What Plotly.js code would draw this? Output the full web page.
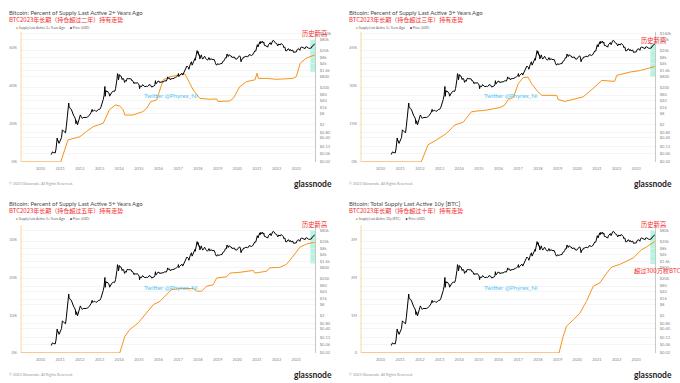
<!DOCTYPE html>
<html><head><meta charset="utf-8">
<script src="https://cdn.plot.ly/plotly-3.0.1.min.js"></script>
<style>html,body{margin:0;padding:0;background:#fff}#c{width:680px;height:383px}</style>
</head><body><div id="c"></div>
<script>
// ---------- DATA ----------
const yearTicks = ['2010','2011','2012','2013','2014','2015','2016','2017','2018','2019','2020','2021','2022','2023'];
const priceTickVals = [0.02,0.06,0.13,0.4,0.8,2,8,16,40,80,200,800,1600,4000,8000,20000,80000,160000];
const priceTickText = ['$0.02','$0.06','$0.13','$0.40','$0.80','$2','$8','$16','$40','$80','$200','$800','$1.6k','$4k','$8k','$20k','$80k','$160k'];

const priceDates = ['2010-07-18','2010-07-25','2010-08-10','2010-08-25','2010-09-15','2010-10-01','2010-10-15','2010-10-28','2010-11-06','2010-11-15','2010-11-25','2010-12-10','2010-12-25',
'2011-01-10','2011-01-25','2011-02-10','2011-02-25','2011-03-10','2011-03-25','2011-04-10','2011-04-25','2011-05-10','2011-05-25','2011-06-08','2011-06-15','2011-06-25','2011-07-10','2011-07-25','2011-08-10','2011-08-25','2011-09-10','2011-09-25','2011-10-10','2011-10-20','2011-11-01','2011-11-18','2011-12-01','2011-12-20',
'2012-01-10','2012-01-25','2012-02-15','2012-03-01','2012-03-20','2012-04-10','2012-05-01','2012-05-20','2012-06-10','2012-06-25','2012-07-10','2012-07-25','2012-08-16','2012-08-25','2012-09-10','2012-09-25','2012-10-10','2012-10-25','2012-11-10','2012-11-25','2012-12-10','2012-12-25',
'2013-01-10','2013-01-25','2013-02-10','2013-02-25','2013-03-10','2013-03-25','2013-04-10','2013-04-16','2013-04-28','2013-05-10','2013-05-25','2013-06-10','2013-06-25','2013-07-06','2013-07-20','2013-08-10','2013-08-25','2013-09-10','2013-09-25','2013-10-10','2013-10-25','2013-11-10','2013-11-20','2013-11-30','2013-12-10','2013-12-18','2013-12-25',
'2014-01-06','2014-01-20','2014-02-05','2014-02-25','2014-03-10','2014-03-25','2014-04-10','2014-04-25','2014-05-10','2014-05-25','2014-06-05','2014-06-20','2014-07-10','2014-07-25','2014-08-10','2014-08-20','2014-09-05','2014-09-20','2014-10-05','2014-10-20','2014-11-05','2014-11-20','2014-12-05','2014-12-20',
'2015-01-05','2015-01-14','2015-01-25','2015-02-10','2015-02-25','2015-03-10','2015-03-25','2015-04-10','2015-04-25','2015-05-10','2015-05-25','2015-06-10','2015-06-25','2015-07-10','2015-07-25','2015-08-10','2015-08-25','2015-09-10','2015-09-25','2015-10-10','2015-10-25','2015-11-04','2015-11-12','2015-11-25','2015-12-10','2015-12-25',
'2016-01-10','2016-01-20','2016-02-05','2016-02-25','2016-03-10','2016-03-25','2016-04-10','2016-04-25','2016-05-10','2016-05-25','2016-06-10','2016-06-17','2016-06-25','2016-07-10','2016-07-25','2016-08-02','2016-08-20','2016-09-10','2016-09-25','2016-10-10','2016-10-25','2016-11-10','2016-11-25','2016-12-10','2016-12-25',
'2017-01-04','2017-01-12','2017-01-25','2017-02-10','2017-02-25','2017-03-10','2017-03-25','2017-04-10','2017-04-25','2017-05-10','2017-05-25','2017-06-10','2017-06-25','2017-07-10','2017-07-16','2017-07-25','2017-08-10','2017-08-25','2017-09-02','2017-09-15','2017-09-25','2017-10-10','2017-10-25','2017-11-08','2017-11-12','2017-11-25','2017-12-07','2017-12-17','2017-12-25',
'2018-01-06','2018-01-17','2018-01-28','2018-02-06','2018-02-20','2018-03-05','2018-03-18','2018-04-01','2018-04-15','2018-04-25','2018-05-05','2018-05-25','2018-06-10','2018-06-28','2018-07-10','2018-07-25','2018-08-10','2018-08-25','2018-09-05','2018-09-15','2018-10-01','2018-10-15','2018-11-01','2018-11-20','2018-11-25','2018-12-15','2018-12-25',
'2019-01-10','2019-01-25','2019-02-08','2019-02-25','2019-03-10','2019-03-25','2019-04-05','2019-04-25','2019-05-10','2019-05-25','2019-06-10','2019-06-26','2019-07-05','2019-07-17','2019-08-05','2019-08-25','2019-09-10','2019-09-25','2019-10-10','2019-10-26','2019-11-10','2019-11-25','2019-12-10','2019-12-18',
'2020-01-01','2020-01-15','2020-02-13','2020-02-28','2020-03-12','2020-03-25','2020-04-10','2020-04-29','2020-05-10','2020-05-25','2020-06-10','2020-06-25','2020-07-10','2020-07-25','2020-08-10','2020-08-25','2020-09-10','2020-09-25','2020-10-10','2020-10-25','2020-11-10','2020-11-25','2020-12-10','2020-12-25',
'2021-01-08','2021-01-22','2021-02-05','2021-02-21','2021-03-01','2021-03-13','2021-03-25','2021-04-14','2021-04-25','2021-05-10','2021-05-19','2021-05-30','2021-06-10','2021-06-22','2021-07-05','2021-07-20','2021-08-01','2021-08-15','2021-09-06','2021-09-21','2021-10-05','2021-10-20','2021-11-08','2021-11-20','2021-12-05','2021-12-20',
'2022-01-01','2022-01-22','2022-02-10','2022-02-24','2022-03-10','2022-03-29','2022-04-10','2022-04-25','2022-05-05','2022-05-12','2022-05-25','2022-06-05','2022-06-18','2022-06-30','2022-07-12','2022-07-30','2022-08-14','2022-08-28','2022-09-12','2022-09-25','2022-10-10','2022-10-29','2022-11-09','2022-11-21','2022-12-05','2022-12-20',
'2023-01-01','2023-01-20','2023-02-05','2023-02-16','2023-03-10','2023-03-22','2023-04-14','2023-04-26','2023-05-10','2023-05-25','2023-06-15','2023-06-25','2023-07-13','2023-07-25','2023-08-10','2023-08-20','2023-09-10','2023-09-25','2023-10-10','2023-10-25','2023-11-10','2023-11-25','2023-12-05','2023-12-10'];
const priceUSD = [0.05,0.06,0.07,0.065,0.062,0.062,0.10,0.17,0.39,0.27,0.28,0.20,0.25,
0.32,0.41,1.07,0.89,0.87,0.82,0.75,1.67,5.8,8.3,29.6,19.5,16.5,14.5,13.8,9.9,8.9,6.0,5.3,4.1,2.3,3.3,2.0,3.0,3.9,
6.8,5.6,4.4,4.9,4.8,4.9,5.0,5.1,5.6,6.6,7.6,8.8,13.5,10.5,11.0,12.2,11.8,10.5,10.9,12.4,13.4,13.3,
14.2,17.5,24.5,30.5,46,75,230,68,140,117,132,108,102,69,90,103,120,131,124,126,180,320,560,1130,970,520,665,
1000,850,820,540,640,580,380,480,435,580,660,595,625,600,590,480,480,410,325,385,335,360,370,320,
275,175,250,220,238,290,248,236,226,242,237,229,243,290,290,265,215,240,235,245,283,470,320,330,415,455,
450,380,385,425,415,416,422,465,455,450,580,750,630,650,655,540,580,620,600,615,655,710,740,775,895,
1135,780,890,1000,1170,1200,940,1210,1260,1760,2400,2880,2550,2400,1940,2580,3400,4350,4900,3230,3900,4800,5700,7400,5900,8700,16000,19500,14000,
17100,11000,11700,7000,11200,11500,8200,6800,8000,9600,9700,7500,6800,5900,6700,8200,6200,6700,7300,6500,6600,6600,6350,4500,3800,3200,3800,
3600,3550,3650,3850,3900,3950,5000,5300,6300,8000,7800,12900,11000,9400,11800,10100,10100,8400,8600,9300,8800,7000,7300,6600,
7200,8800,10300,8700,4900,6700,6900,8800,8600,8800,9800,9200,9250,9550,11900,11400,10400,10700,11300,13000,15300,19000,18300,24700,
40600,30800,38000,57500,45000,61200,52300,63500,49000,56000,37000,34500,37000,32500,34000,29800,40000,47000,52500,40700,51000,65900,67500,59000,49000,46700,
47700,35000,44000,38000,39000,47400,42200,40400,36500,28900,29600,29900,19000,19900,19300,23800,24300,19600,22400,18800,19100,20800,15900,15800,17100,16900,
16600,22700,23300,24400,20200,28300,30400,28400,27600,26500,25100,30500,31400,29200,29400,26100,25800,26300,27400,34500,37300,37800,44000,43700];

// Supply Last Active 2+ Years Ago (%)
const lta2Dates = ['2009-01-03','2011-01-10','2011-05-25','2012-01-01','2012-05-01','2012-09-05','2013-03-10','2013-05-10','2013-07-01','2013-10-20','2014-01-10','2014-03-15','2014-04-15','2014-09-10','2015-03-15','2015-05-25','2015-08-10','2015-11-25','2016-01-25','2016-03-28','2016-07-30','2017-02-01','2017-05-05','2017-07-01','2017-10-05','2018-02-05','2018-08-05','2018-12-15','2019-01-10','2019-08-15','2019-10-20','2020-02-15','2020-06-20','2020-11-25','2021-01-03','2021-01-25','2021-07-01','2022-01-01','2022-11-05','2023-01-01','2023-03-15','2023-07-01','2023-12-10'];
const lta2Pct = [0,0,11.6,13.3,16,18.6,20.4,23.9,27.4,30,29.5,27.4,24.7,24.7,26.5,28.2,31.8,32.6,37.9,43.2,44.9,45.8,46.3,43.2,37.9,33.5,33,33.2,31.8,32.1,33.5,39.6,42.3,43.2,46.7,44,44,43.5,44,44.9,51.9,54.6,56.3];

// Supply Last Active 3+ Years Ago (%)
const lta3Dates = ['2009-01-03','2012-01-25','2012-06-01','2012-11-05','2013-05-10','2013-10-10','2014-03-15','2014-08-15','2014-11-25','2015-05-25','2016-01-25','2016-04-20','2016-07-01','2016-10-01','2017-01-01','2017-04-01','2017-07-01','2017-09-05','2018-01-01','2018-03-15','2018-12-15','2019-01-10','2019-05-15','2019-08-10','2019-10-20','2020-04-20','2020-10-20','2021-04-01','2021-11-25','2022-01-05','2022-09-10','2023-03-15','2023-12-10'];
const lta3Pct = [0,0,6.8,8.7,11.3,14.6,15.7,19.8,20.1,20.5,21.5,22.4,24.7,25.4,30.9,33.3,33.5,30.9,27.7,26.3,26.3,24.7,23.9,24.4,24.8,25.7,29,32.2,31.8,34.2,35.5,36.1,37.7];

// Supply Last Active 5+ Years Ago (%)
const lta5Dates = ['2009-01-03','2014-01-10','2014-04-15','2014-07-15','2014-12-20','2015-05-25','2015-09-25','2016-01-25','2016-05-25','2016-08-28','2017-02-01','2017-10-05','2017-12-05','2018-03-10','2018-06-10','2018-10-10','2018-12-15','2019-06-15','2019-08-20','2020-02-20','2020-10-25','2020-11-25','2021-07-01','2021-08-28','2022-03-01','2022-07-01','2022-11-05','2023-03-10','2023-07-10','2023-12-10'];
const lta5Pct = [0,0,4.4,6.2,8,10.6,12.8,13.7,15.5,16.8,17.1,17.1,16.4,16.4,17.7,18.1,19.9,20.2,21.2,21.4,21.9,21.2,21.7,22.6,22.7,23.5,25.7,28.1,28.9,29.4];

// Total Supply Last Active 10y (BTC)
const lta10Dates = ['2009-01-03','2019-01-28','2019-04-15','2019-06-15','2019-10-20','2020-02-20','2020-06-20','2020-10-25','2021-02-25','2021-04-25','2021-07-01','2021-10-01','2022-03-01','2022-11-05','2023-04-10','2023-07-10','2023-12-10'];
const lta10BTC = [0,0,440000,710000,880000,1060000,1370000,1770000,1860000,1990000,2120000,2280000,2350000,2520000,2740000,2810000,2960000];

const titles = ['Bitcoin: Percent of Supply Last Active 2+ Years Ago','Bitcoin: Percent of Supply Last Active 3+ Years Ago','Bitcoin: Percent of Supply Last Active 5+ Years Ago','Bitcoin: Total Supply Last Active 10y [BTC]'];
const subtitles = ['BTC2023年长期（持仓超过二年）持有走势','BTC2023年长期（持仓超过三年）持有走势','BTC2023年长期（持仓超过五年）持有走势','BTC2023年长期（持仓超过十年）持有走势'];
const seriesNames = ['Supply Last Active 2+ Years Ago','Supply Last Active 3+ Years Ago','Supply Last Active 5+ Years Ago','Supply Last Active 10y [BTC]'];
const leftTickVals = [[0,20,40,60],[0,15,30,45],[0,10,20,30],[0,1000000,2000000,3000000]];
const leftTickText = [['0%','20%','40%','60%'],['0%','15%','30%','45%'],['0%','10%','20%','30%'],['0','1M','2M','3M']];

// ---------- BUILD ----------
const W = 680, H = 383;
const series = [[lta2Dates,lta2Pct],[lta3Dates,lta3Pct],[lta5Dates,lta5Pct],[lta10Dates,lta10BTC]];
// pixel boxes: [left, right, top, bottom]
const boxes = [[21,315,32,162],[361,655,32,162],[21,315,225,353],[361,655,225,353]];
const leftTop = [68.4, 51.3, 33.95, 3395000];
const pxPerDec = 18.6;
const rects = [[0.692,0.938],[0.654,0.915],[0.70,0.96],[0.695,0.953]];
const xEnd = '2023-12-15';
const ORANGE = '#f7931a';
const tickFont = {size:4, color:'#888', family:'Lato, sans-serif'};
const fam = 'Lato, "Noto Sans CJK SC", sans-serif';
const cjk = '"Noto Sans CJK SC", sans-serif';

const data = [];
const layout = {width:W, height:H, margin:{l:0,r:0,t:0,b:0}, paper_bgcolor:'#fff', plot_bgcolor:'rgba(0,0,0,0)',
  showlegend:false, font:{family:fam}, annotations:[], shapes:[]};

function py(p){ return 1 - p/H; }
function px(p){ return p/W; }

for (let i=0;i<4;i++){
  const b = boxes[i];
  const xn = i===0 ? '' : String(i+1);
  const yl = 2*i+1, yr = 2*i+2;
  const ylId = yl===1 ? 'y' : 'y'+yl;
  const yrId = 'y'+yr;
  const xId = 'x'+xn;
  const hpx = b[3]-b[2];
  layout['xaxis'+xn] = {type:'date', domain:[px(b[0]),px(b[1])], anchor:ylId, range:['2009-01-03',xEnd],
    tickvals: yearTicks.map(y=>y+'-01-01'), ticktext: yearTicks, showgrid:false, zeroline:false, showline:false,
    ticks:'', tickfont:tickFont, ticklabelstandoff:3, fixedrange:true};
  layout['yaxis'+(yl===1?'':yl)] = {domain:[py(b[3]),py(b[2])], anchor:xId, range:[0,leftTop[i]],
    tickvals:leftTickVals[i], ticktext:leftTickText[i], showgrid:false, zeroline:false, showline:false,
    ticks:'', tickfont:tickFont, ticklabelstandoff:3, fixedrange:true};
  layout['yaxis'+yr] = {overlaying:ylId, anchor:xId, side:'right', type:'log',
    range:[Math.log10(0.02), Math.log10(0.02)+hpx/pxPerDec],
    tickvals:priceTickVals, ticktext:priceTickText, showgrid:true, gridcolor:'#efefef', gridwidth:0.6,
    showline:true, linecolor:'#c8c8c8', linewidth:1, zeroline:false, ticks:'', tickfont:tickFont, ticklabelstandoff:3, fixedrange:true};

  data.push({type:'scatter', mode:'lines', x:series[i][0], y:series[i][1], xaxis:xId, yaxis:ylId,
    line:{color:ORANGE, width:1}, name:seriesNames[i], hoverinfo:'skip'});
  data.push({type:'scatter', mode:'lines', x:priceDates, y:priceUSD, xaxis:xId, yaxis:yrId,
    line:{color:'#000', width:1}, name:'Price [USD]', hoverinfo:'skip'});

  // left edge line and green highlight
  layout.shapes.push({type:'line', xref:xId+' domain', yref:ylId+' domain', x0:0, x1:0, y0:0, y1:1, line:{color:'#fcd3a4', width:1}});
  layout.shapes.push({type:'rect', xref:xId, yref:ylId+' domain', x0:'2023-09-18', x1:xEnd, y0:rects[i][0], y1:rects[i][1],
    fillcolor:'#8ef0cf', opacity:0.65, line:{width:0}, layer:'below'});

  const ox = i%2===0 ? 0 : 340;
  const oy = i<2 ? 0 : 191;
  const A = layout.annotations;
  A.push({xref:'paper', yref:'paper', x:px(ox+7), y:py(oy+12.5), xanchor:'left', yanchor:'middle', showarrow:false,
    text:titles[i], font:{size:6, color:'#4a4a4a', family:fam}});
  A.push({xref:'paper', yref:'paper', x:px(ox+7), y:py(oy+19.3), xanchor:'left', yanchor:'middle', showarrow:false,
    text:subtitles[i], font:{size:6, color:'#f42b2b', family:cjk}});
  A.push({xref:'paper', yref:'paper', x:px(ox+14), y:py(oy+28.2), xanchor:'left', yanchor:'middle', showarrow:false,
    text:'<span style="color:'+ORANGE+'">●</span> '+seriesNames[i]+'      <span style="color:#000">●</span> Price [USD]',
    font:{size:3.3, color:'#666', family:fam}});
  A.push({xref:'paper', yref:'paper', x:px(ox+7), y:py(oy+183), xanchor:'left', yanchor:'middle', showarrow:false,
    text:'© 2023 Glassnode. All Rights Reserved.', font:{size:3.7, color:'#999', family:fam}});
  A.push({xref:'paper', yref:'paper', x:px(ox+334), y:py(oy+183.5), xanchor:'right', yanchor:'middle', showarrow:false,
    text:'<b>glassnode</b>', font:{size:8.5, color:'#1c1c1c', family:'Lato, sans-serif'}});
  A.push({xref:'paper', yref:'paper', x:px(ox+170.5), y:py(oy+96), xanchor:'center', yanchor:'middle', showarrow:false,
    text:'Twitter @Phyrex_Ni', font:{size:6.2, color:'#52c5f2', family:fam}});
}
// "历史新高" labels
const athPos = [[314.5,33.5],[653.5,41],[314.5,224],[653.5,224.5]];
athPos.forEach(p=>layout.annotations.push({xref:'paper', yref:'paper', x:px(p[0]), y:py(p[1]), xanchor:'center', yanchor:'middle',
  showarrow:false, text:'历史新高', font:{size:6.3, color:'#f42b2b', family:cjk}}));
layout.annotations.push({xref:'paper', yref:'paper', x:px(656.5), y:py(270.5), xanchor:'center', yanchor:'middle',
  showarrow:false, text:'超过300万枚BTC', font:{size:6.2, color:'#f42b2b', family:cjk}});

Plotly.newPlot('c', data, layout, {staticPlot:true, displayModeBar:false});
</script></body></html>
